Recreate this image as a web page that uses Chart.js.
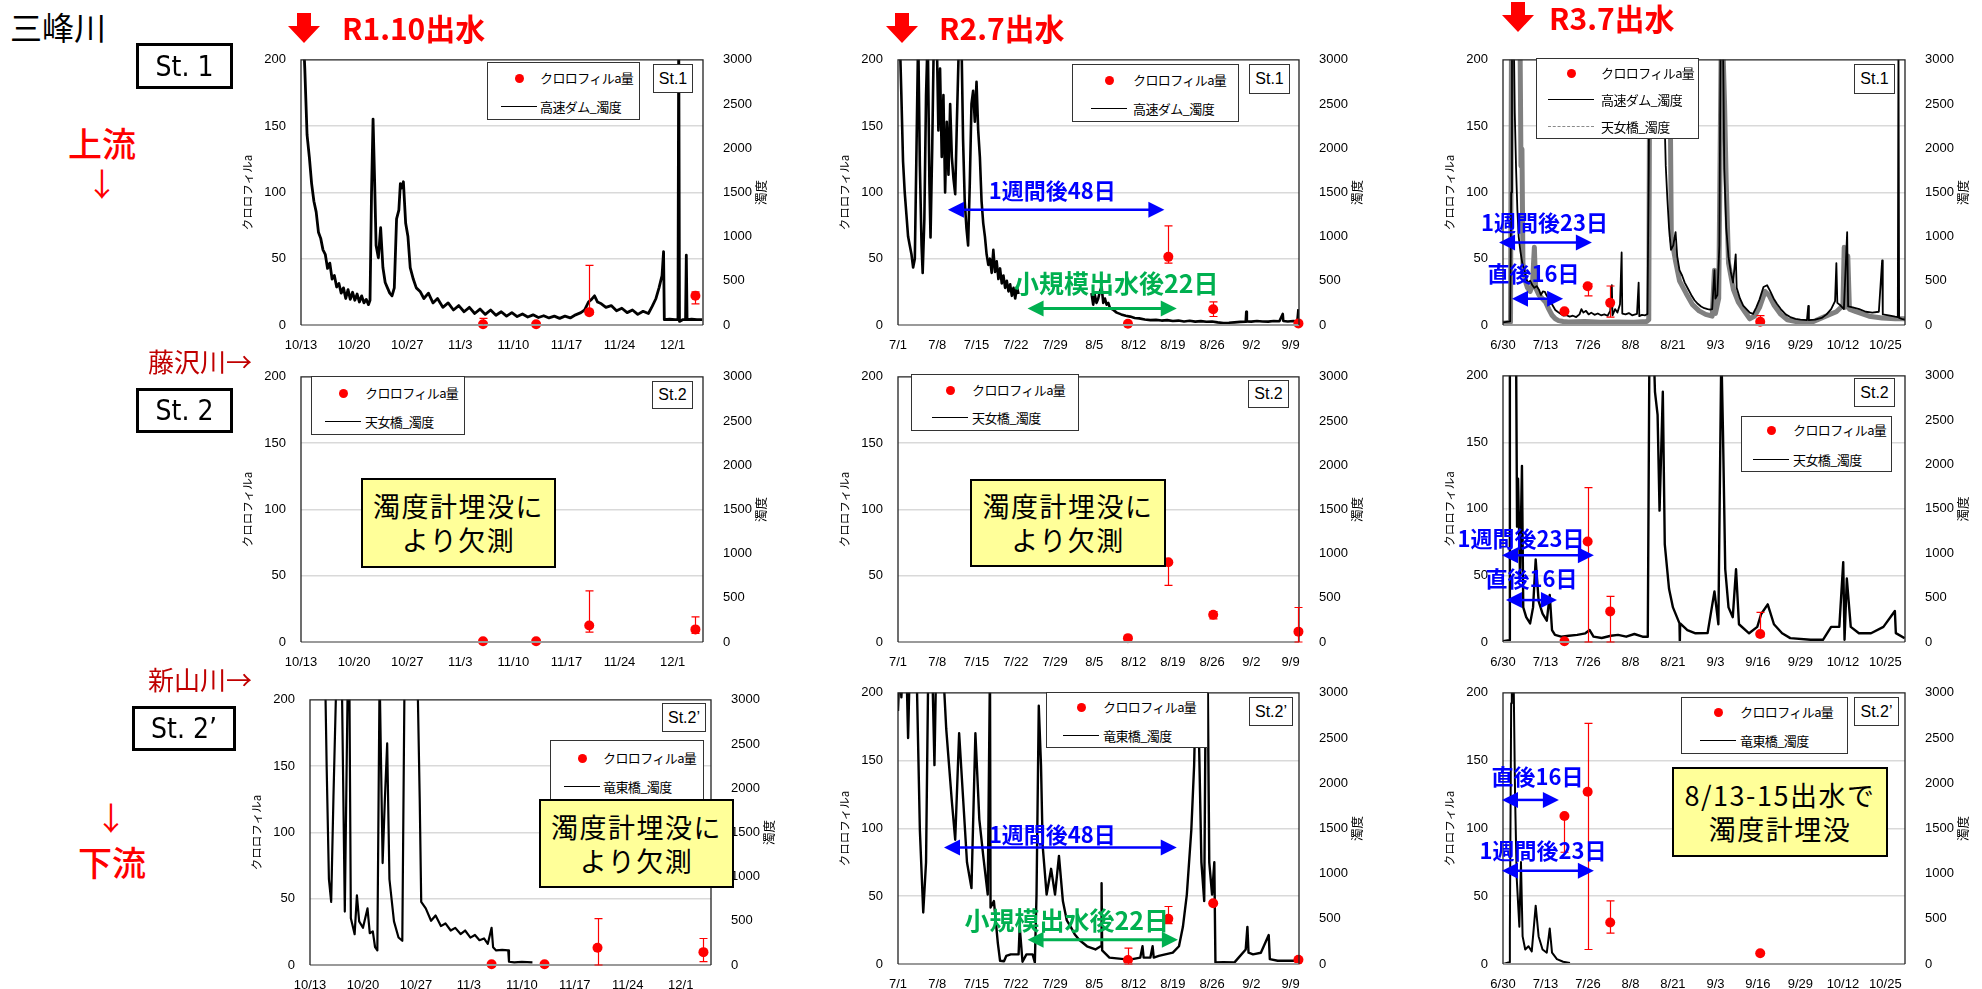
<!DOCTYPE html>
<html>
<head>
<meta charset="utf-8">
<script src="https://cdn.jsdelivr.net/npm/chart.js@4.4.1/dist/chart.umd.min.js"></script>
<style>
  body { margin: 0; background: #fff; width: 1982px; height: 989px; position: relative; overflow: hidden; }
  canvas { position: absolute; }
  .ov { position: absolute; white-space: nowrap; line-height: 1; font-family: 'Noto Sans CJK JP', sans-serif; color: #000; }
  .box { position: absolute; box-sizing: border-box; display: flex; align-items: center; justify-content: center; text-align: center; }
</style>
</head>
<body>
<script>
// ---- tick labels ----
const r1TickDays = [0, 7, 14, 21, 28, 35, 42, 49];
const r1TickLabels = ['10/13', '10/20', '10/27', '11/3', '11/10', '11/17', '11/24', '12/1'];
const r2TickDays = [0, 7, 14, 21, 28, 35, 42, 49, 56, 63, 70];
const r2TickLabels = ['7/1', '7/8', '7/15', '7/22', '7/29', '8/5', '8/12', '8/19', '8/26', '9/2', '9/9'];
const r3TickDays = [0, 13, 26, 39, 52, 65, 78, 91, 104, 117];
const r3TickLabels = ['6/30', '7/13', '7/26', '8/8', '8/21', '9/3', '9/16', '9/29', '10/12', '10/25'];
const chlTicks = [0, 50, 100, 150, 200];
const turbTicks = [0, 500, 1000, 1500, 2000, 2500, 3000];

// ---- chlorophyll-a samples (day from axis start) ----
const chlDayR1 = [24, 31, 38, 52];
const chlDayR2 = [41, 48.2, 56.2, 71.4];
const chlDayR3 = [18.8, 25.9, 32.8, 78.7];

const st1R1Chl = [0.5, 0.5, 9.7, 22];
const st1R1Lo = [0.5, 0.5, 8, 16];
const st1R1Hi = [5, 0.5, 45, 25];
const st2R1Chl = [0.5, 0.5, 12.5, 9.5];
const st2R1Lo = [0.5, 0.5, 7.5, 6.5];
const st2R1Hi = [0.5, 0.5, 38.6, 19];
const st2dR1Chl = [0.5, 0.5, 13, 9.7];
const st2dR1Lo = [0.5, 0.5, 0, 2.5];
const st2dR1Hi = [0.5, 0.5, 35, 20];

const st1R2Chl = [1, 51.4, 11.9, 1.2];
const st1R2Lo = [1, 46.6, 6.4, 1.2];
const st1R2Hi = [1, 74.8, 17.4, 1.2];
const st2R2Chl = [2.9, 60.2, 20.5, 7.8];
const st2R2Lo = [2.9, 42.7, 17.5, 0];
const st2R2Hi = [2.9, 60.2, 23, 26];
const st2dR2Chl = [2.9, 33.3, 44.8, 3.1];
const st2dR2Lo = [0, 29.8, 44.8, 3.1];
const st2dR2Hi = [11.7, 42.4, 44.8, 3.1];

const st1R3Chl = [10.3, 29.2, 16.7, 2.4];
const st1R3Lo = [10.3, 22, 6, 2.4];
const st1R3Hi = [10.3, 31, 29.4, 7];
const st2R3Chl = [0.5, 75.5, 23, 6];
const st2R3Lo = [0.5, 0, 0, 4];
const st2R3Hi = [0.5, 116, 34.3, 22.2];
const st2dR3Chl = [109.2, 127, 30.6, 7.9];
const st2dR3Lo = [82.4, 10.7, 22.7, 7.9];
const st2dR3Hi = [109.2, 177.5, 46.6, 7.9];

// ---- turbidity traces (day, value) ----
// St.1 高速ダム R1.10
const st1R1Day = [
  0.3, 0.5, 0.8, 1.1, 1.4, 1.7, 2.0, 2.3, 2.6, 2.9,
  3.2, 3.5, 3.8, 4.1, 4.4, 4.7, 5.0, 5.3, 5.6, 5.9,
  6.2, 6.5, 6.8, 7.1, 7.4, 7.7, 8.0, 8.3, 8.6, 8.9,
  9.1, 9.3, 9.5, 9.7, 9.9, 10.2, 10.5, 10.8, 11.1, 11.4,
  11.7, 12.0, 12.3, 12.6, 12.9, 13.1, 13.3, 13.5, 13.8, 14.1,
  14.4, 14.8, 15.2, 15.7, 16.2, 16.8, 17.4, 18.0, 18.7, 19.4,
  20.1, 20.8, 21.5, 22.2, 22.9, 23.6, 24.3, 25.0, 25.7, 26.4,
  27.1, 27.8, 28.5, 29.2, 29.9, 30.6, 31.3, 32.0, 32.7, 33.4,
  34.1, 34.8, 35.5, 36.2, 36.9, 37.4, 37.9, 38.3, 38.7, 39.1,
  39.6, 40.2, 40.9, 41.6, 42.3, 43.0, 43.7, 44.4, 45.1, 45.8,
  46.3, 46.8, 47.2, 47.6, 47.8, 47.9, 48.6, 49.3, 49.7, 49.8,
  49.9, 50.3, 50.7, 50.8, 50.9, 51.5, 52.2, 52.9
];
const st1R1Turb = [
  3300, 2900, 2150, 1900, 1600, 1400, 1280, 1050, 980, 850,
  800, 640, 700, 520, 560, 430, 470, 360, 420, 300,
  400, 290, 370, 280, 350, 260, 330, 250, 290, 230,
  280, 1500, 2330, 1650, 900, 760, 1100, 650, 480, 420,
  360, 330, 420, 1200, 1300, 1600, 1550, 1620, 1150, 1000,
  650, 520, 420, 380, 300, 360, 250, 300, 200, 250,
  170, 220, 150, 200, 130, 180, 120, 170, 110, 150,
  100, 140, 95, 125, 90, 115, 85, 105, 80, 100,
  75, 100, 80, 115, 140, 170, 260, 290, 330, 260,
  240, 200, 220, 160, 190, 140, 170, 120, 155, 130,
  210, 300, 420, 560, 830, 60, 65, 60, 60, 3400,
  40, 60, 60, 790, 60, 65, 60, 60
];

// St.1 高速ダム R2.7
const st1R2Day = [
  0.3, 0.6, 0.9, 1.2, 1.5, 1.8, 2.1, 2.4, 2.7, 3.0,
  3.3, 3.6, 3.9, 4.2, 4.4, 4.7, 5.0, 5.3, 5.6, 5.8,
  6.1, 6.4, 6.9, 7.2, 7.5, 7.8, 8.1, 8.4, 8.7, 9.0,
  9.3, 9.6, 9.9, 10.2, 10.5, 10.9, 11.3, 11.6, 11.9, 12.2,
  12.5, 12.8, 13.1, 13.4, 13.7, 14.0, 14.3, 14.6, 14.9, 15.2,
  15.5, 15.8, 16.1, 16.4, 16.7, 17.0, 17.3, 17.6, 17.9, 18.2,
  18.5, 18.8, 19.1, 19.4, 19.7, 20.0, 20.3, 20.6, 20.9, 21.2,
  21.5, 21.6, 34.5, 34.8, 35.1, 35.4, 35.7, 36.0, 36.3, 36.6,
  36.9, 37.2, 37.5, 37.8, 38.4, 39.0, 39.8, 40.6, 41.4, 42.2,
  43, 44, 45, 46, 47, 48, 49, 50, 51, 52,
  53, 54, 55, 56, 57, 58, 59, 60, 61, 62,
  62.1, 62.2, 63, 64, 65, 66, 67, 68, 68.6, 68.7,
  69.5, 70.5, 71.2, 71.4
];
const st1R2Turb = [
  3300, 2600, 1850, 1500, 1250, 1000, 900, 800, 650, 750,
  2000, 3300, 1800, 900, 590, 1200, 2600, 3300, 1600, 990,
  2000, 3300, 3300, 2200, 2900, 1900, 2600, 1500, 2300, 1700,
  2500, 1900, 1650, 1480, 2300, 3300, 3300, 2100, 1400, 1100,
  900, 1600, 2500, 2650, 2300, 2750, 2200, 1900, 1400, 1150,
  1000, 800, 680, 750, 590, 850, 600, 720, 520, 640,
  470, 560, 420, 500, 380, 460, 330, 420, 300, 430,
  350, null, 360, 230, 340, 250, 300, 380, 430, 250,
  300, 230, 250, 190, 170, 140, 120, 105, 95, 80,
  75, 62, 55, 58, 50, 55, 45, 50, 40, 48,
  38, 44, 36, 40, 30, 22, 25, 30, 35, 36,
  150, 40, 38, 45, 40, 38, 45, 42, 125, 45,
  40, 45, 40, 180
];

// St.1 高速ダム R3.7
const st1R3Day = [
  0, 2.2, 2.5, 2.75, 3.3, 3.6, 4.0, 4.4, 4.8, 5.3,
  5.9, 6.5, 7.1, 7.7, 8.3, 9.0, 9.6, 10.3, 11.0, 11.6,
  12.2, 12.8, 13.4, 14.0, 14.6, 15.3, 16.0, 16.7, 17.5, 18.4,
  19.4, 20.4, 21.4, 22.4, 23.4, 24.0, 24.6, 25.4, 26.2, 27.0,
  28.0, 29.0, 30.0, 31.0, 32.0, 32.8, 33.3, 33.5, 34.3, 35.0,
  35.8, 36.3, 36.5, 37.5, 38.5, 39.5, 41.0, 41.5, 41.7, 42.5,
  43.5, 44.2, 44.6, 44.8, 49.0, 49.4, 49.8, 50.3, 50.8, 51.4,
  52.1, 52.8, 53.3, 54.0, 54.8, 55.6, 56.6, 57.6, 58.6, 59.6,
  60.6, 61.6, 62.6, 63.4, 64.0, 64.7, 65.0, 65.6, 66.2, 66.6,
  67.3, 67.7, 68.3, 69.0, 69.7, 70.4, 71.2, 71.5, 72.5, 73.5,
  74.5, 75.5, 76.5, 77.5, 78.5, 79.7, 80.8, 81.8, 82.8, 83.8,
  85.0, 86.5, 87.9, 89.5, 91.0, 93.0, 93.4, 93.6, 95.5, 97.5,
  99.0, 100.4, 101.6, 102.0, 102.3, 103.3, 104.3, 105.3, 105.6, 107.0,
  109.0, 111.0, 113.0, 115.0, 116.0, 116.2, 118.0, 120.0, 120.8, 121.0,
  121.2, 122.0, 123.0
];
const st1R3Turb = [
  30, 40, 1500, 3300, 3300, 2400, 1770, 1300, 1000, 840,
  700, 630, 520, 480, 500, 450, 420, 440, 400, 340,
  380, 376, 330, 300, 260, 215, 170, 150, 130, 107,
  110, 95, 105, 90, 120, 180, 140, 160, 120, 140,
  115, 130, 110, 120, 105, 160, 450, 110, 180, 140,
  235, 820, 130, 120, 135, 110, 125, 480, 100, 115,
  110, 125, 1800, 3300, 3300, 2400, 1800, 1420, 1100, 850,
  900, 1050, 780, 620, 560, 480, 410, 340, 280, 240,
  210, 190, 180, 175, 180, 620, 300, 340, 900, 3300,
  3300, 1770, 1100, 770, 600, 480, 800, 420, 300, 220,
  180, 140, 125, 200, 290, 430, 450, 380, 300, 240,
  180, 120, 90, 70, 60, 55, 215, 55, 60, 80,
  120, 180, 270, 700, 250, 220, 180, 1050, 210, 200,
  180, 150, 140, 150, 730, 120, 110, 95, 90, 3300,
  80, 70, 60
];

// St.1 天女橋 R3.7 (grey)
const tenR3Day = [
  0, 2.3, 2.6, 5.2, 5.5, 5.8, 6.1, 6.8, 7.5, 8.3,
  9.0, 9.6, 10.0, 11.0, 12.0, 13.0, 14.0, 15.0, 16.0, 17.0,
  18.4, 20.0, 25.0, 30.0, 35.0, 40.0, 44.0, 44.6, 44.9, 51.0,
  51.5, 52.8, 54.0, 56.0, 58.0, 60.0, 62.0, 64.0, 64.7, 65.0,
  66.0, 66.8, 67.4, 67.8, 68.3, 69.0, 70.5, 72.0, 74.0, 75.5,
  77.0, 78.5, 80.2, 81.5, 83.0, 85.0, 87.0, 90.0, 95.0, 100.0,
  102.0, 104.0, 104.4, 104.7, 105.5, 106.0, 108.0, 112.0, 116.0, 120.0,
  123.0
];
const tenR3Turb = [
  20, 30, 3300, 3300, 1800, 1990, 700, 500, 420, 380,
  450, 880, 420, 340, 300, 260, 180, 110, 70, 50,
  40, 35, 40, 30, 35, 30, 40, 60, 3300, 3300,
  1000, 720, 500, 360, 230, 160, 120, 100, 620, 130,
  300, 3300, 3000, 2490, 1600, 700, 400, 260, 150, 70,
  100, 200, 380, 330, 220, 120, 60, 35, 40, 120,
  150, 220, 880, 200, 780, 180, 150, 100, 80, 70,
  70
];

// St.2 天女橋 R3.7
const st2R3Day = [
  0, 1.9, 2.1, 4.0, 4.3, 4.6, 5.2, 5.8, 6.2, 7.1,
  8.3, 9.2, 10.0, 10.9, 12.1, 13.4, 14.3, 15.0, 15.9, 17.8,
  20.2, 22.7, 25.2, 26.5, 27.7, 30.2, 33.0, 35.2, 37.7, 40.2,
  42.7, 44.3, 44.8, 46.1, 46.5, 47.3, 47.9, 48.9, 49.5, 50.8,
  52.0, 54.0, 54.1, 54.2, 56.4, 58.9, 62.6, 64.7, 65.9, 66.8,
  67.3, 68.0, 69.0, 70.3, 71.3, 72.2, 75.3, 77.8, 79.0, 81.0,
  82.9, 85.4, 87.9, 94.1, 97.9, 100.4, 102.9, 104.1, 104.5, 105.2,
  106.4, 108.9, 112.6, 116.4, 119.9, 120.2, 122.9
];
const st2R3Turb = [
  10, 20, 3300, 3300, 1300, 1840, 750, 1985, 390, 280,
  210, 390, 930, 460, 320, 240, 530, 135, 80, 60,
  70, 80, 98, 135, 60, 45, 70, 80, 60, 90,
  60, 60, 3300, 3300, 2820, 2560, 1480, 2820, 1100, 600,
  390, 210, 0, 210, 135, 98, 100, 570, 200, 3300,
  2380, 820, 390, 280, 820, 200, 98, 170, 316, 424,
  200, 98, 44, 25, 25, 170, 170, 900, 25, 715,
  170, 98, 98, 170, 350, 100, 44
];

// St.2' 竜東橋 R1.10
const st2dR1Day = [
  2.0, 2.2, 2.5, 2.8, 3.1, 3.5, 4.2, 4.6, 5.0, 5.2,
  5.4, 5.9, 6.2, 6.5, 7.0, 7.6, 7.9, 8.3, 8.6, 8.9,
  9.2, 9.6, 9.9, 10.2, 10.5, 11.1, 11.7, 12.2, 12.5, 14.2,
  14.5, 14.7, 15.3, 16.0, 16.6, 17.3, 17.9, 18.6, 19.2, 19.9,
  20.5, 21.2, 21.8, 22.4, 23.0, 23.5, 24.0, 24.2, 24.6, 25.4,
  26.2, 26.3, 27.0, 28.0, 29.4
];
const st2dR1Turb = [
  3300, 2250, 970, 713, 1900, 3300, 3300, 604, 3300, 3300,
  530, 348, 787, 494, 421, 640, 360, 380, 201, 165,
  3300, 1153, 1884, 2506, 970, 494, 311, 274, 3300, 3300,
  1884, 713, 640, 500, 560, 440, 470, 390, 420, 350,
  390, 310, 340, 280, 300, 240, 421, 201, 165, 170,
  165, 37, 30, 35, 30
];

// St.2' 竜東橋 R2.7
const st2dR2Day = [
  0, 0.3, 0.6, 0.9, 1.5, 1.8, 2.1, 3.3, 3.9, 4.5,
  5.0, 5.4, 6.1, 6.5, 6.8, 7.6, 8.1, 8.6, 9.1, 9.6,
  10.2, 10.9, 11.6, 12.3, 13.1, 13.8, 14.5, 15.2, 16.0, 16.4,
  16.5, 17.1, 17.8, 18.2, 18.9, 19.3, 20.1, 21.5, 21.7, 22.2,
  22.9, 24.0, 24.4, 24.7, 25.1, 25.5, 25.8, 26.5, 27.3, 28.0,
  28.7, 29.4, 30.1, 30.8, 31.5, 32.3, 33.7, 35.2, 36.2, 36.3,
  36.4, 37.7, 40.3, 41.8, 43.2, 43.6, 43.8, 45.0, 45.4, 45.6,
  46.5, 49.0, 50.1, 50.8, 51.5, 52.3, 52.8, 53.2, 53.7, 54.1,
  54.6, 54.9, 55.2, 55.5, 56.0, 56.4, 56.6, 58.0, 60.0, 62.0,
  62.3, 62.5, 63.3, 64.7, 66.1, 66.3, 67.7, 71.4
];
const st2dR2Turb = [
  2800, 3300, 2950, 3300, 3300, 2500, 3300, 3300, 1480, 570,
  1125, 3300, 3300, 2200, 3300, 3300, 3200, 2600, 2200, 1800,
  1375, 2553, 1839, 1125, 839, 2553, 1600, 1196, 768, 3300,
  625, 696, 232, 36, 30, 89, 107, 107, 411, 25,
  107, 107, 18, 768, 2857, 2196, 1304, 768, 1053, 768,
  1196, 696, 482, 411, 330, 268, 196, 161, 200, 893,
  150, 71, 54, 54, 71, 196, 71, 71, 196, 71,
  89, 125, 196, 411, 768, 1482, 2196, 3300, 2375, 1125,
  696, 3300, 3300, 1125, 768, 1125, 18, 20, 18, 161,
  411, 125, 107, 125, 321, 54, 36, 36
];

// St.2' 竜東橋 R3.7
const st2dR3Day = [
  0, 1.9, 2.1, 2.5, 2.7, 3.2, 3.7, 4.2, 5.0, 5.5,
  6.0, 6.8, 7.8, 8.8, 10.0, 10.9, 12.1, 13.4, 14.3, 15.0,
  16.5, 18.4, 20.5
];
const st2dR3Turb = [
  0, 20, 340, 2885, 3300, 3300, 1846, 950, 412, 1129,
  305, 161, 197, 140, 645, 305, 161, 125, 394, 125,
  54, 25, 11
];

// ---------------------------------------------------------------
Chart.defaults.font.family = "'Liberation Sans', Arial, sans-serif";
Chart.defaults.font.size = 13;
Chart.defaults.color = '#000';

const blue = '#0000ff';
const green = '#00b050';

const framePlugin = {
  id: 'frame',
  afterDatasetsDraw(chart) {
    const { ctx, chartArea: a } = chart;
    ctx.save();
    ctx.strokeStyle = '#9a9a9a';
    ctx.lineWidth = 2;
    ctx.beginPath(); ctx.moveTo(a.left, a.bottom); ctx.lineTo(a.right, a.bottom); ctx.stroke();
    ctx.strokeStyle = '#222';
    ctx.lineWidth = 1.3;
    ctx.beginPath();
    ctx.moveTo(a.left, a.bottom); ctx.lineTo(a.left, a.top);
    ctx.lineTo(a.right, a.top); ctx.lineTo(a.right, a.bottom);
    ctx.stroke();
    ctx.restore();
  }
};

const errorBarPlugin = {
  id: 'errorBars',
  afterDatasetsDraw(chart) {
    const { ctx } = chart;
    const xs = chart.scales.x, ys = chart.scales.y;
    chart.data.datasets.forEach(ds => {
      if (!ds.errLo) return;
      ctx.save();
      ctx.strokeStyle = '#ff0000';
      ctx.lineWidth = 1.2;
      ds.data.forEach((p, i) => {
        const lo = ds.errLo[i], hi = ds.errHi[i];
        if (hi - lo < 0.5) return;
        const x = Math.round(xs.getPixelForValue(p.x)) + 0.5;
        const yl = ys.getPixelForValue(lo), yh = ys.getPixelForValue(hi);
        ctx.beginPath();
        ctx.moveTo(x, yl); ctx.lineTo(x, yh);
        if (hi > p.y + 0.5) { ctx.moveTo(x - 4, yh); ctx.lineTo(x + 4, yh); }
        if (lo < p.y - 0.5) { ctx.moveTo(x - 4, yl); ctx.lineTo(x + 4, yl); }
        ctx.stroke();
      });
      ctx.restore();
    });
  }
};

const axisTitlePlugin = {
  id: 'axisTitles',
  afterDraw(chart) {
    const { ctx, chartArea: a } = chart;
    const cy = (a.top + a.bottom) / 2;
    ctx.save();
    ctx.fillStyle = '#000';
    ctx.textAlign = 'center';
    ctx.textBaseline = 'middle';
    [[a.left - 53, 'クロロフィルa', 11.5], [a.right + 58, '濁度', 12.5]].forEach(([x, t, s]) => {
      ctx.save();
      ctx.font = s + "px 'Noto Sans CJK JP'";
      ctx.translate(x, cy);
      ctx.rotate(-Math.PI / 2);
      ctx.fillText(t, 0, 0);
      ctx.restore();
    });
    ctx.restore();
  }
};

function notesPlugin(items) {
  return {
    id: 'notes',
    afterDatasetsDraw(chart) {
      const { ctx } = chart;
      const xs = chart.scales.x, ys = chart.scales.y;
      items.forEach(n => {
        const x0 = xs.getPixelForValue(n.d0), x1 = xs.getPixelForValue(n.d1);
        const y = ys.getPixelForValue(n.v);
        const hl = 16, hh = 8;
        ctx.save();
        ctx.strokeStyle = n.color;
        ctx.fillStyle = n.color;
        ctx.lineWidth = n.lw;
        ctx.beginPath(); ctx.moveTo(x0 + hl - 1, y); ctx.lineTo(x1 - hl + 1, y); ctx.stroke();
        ctx.beginPath(); ctx.moveTo(x0, y); ctx.lineTo(x0 + hl, y - hh); ctx.lineTo(x0 + hl, y + hh); ctx.closePath(); ctx.fill();
        ctx.beginPath(); ctx.moveTo(x1, y); ctx.lineTo(x1 - hl, y - hh); ctx.lineTo(x1 - hl, y + hh); ctx.closePath(); ctx.fill();
        ctx.font = 'bold ' + n.size + "px 'Noto Sans CJK JP'";
        ctx.textAlign = 'center';
        ctx.textBaseline = 'middle';
        ctx.fillText(n.text, (x0 + x1) / 2 + n.dx, y - n.dy);
        ctx.restore();
      });
    }
  };
}

function makePanel(p) {
  const [l, t, r, b] = p.rect;
  const cv = document.createElement('canvas');
  cv.width = r - l + 200;
  cv.height = b - t + 45;
  cv.style.left = (l - 100) + 'px';
  cv.style.top = (t - 15) + 'px';
  document.body.appendChild(cv);

  const datasets = [{
    type: 'scatter',
    data: p.chlDays.map((d, i) => ({ x: d, y: p.chl[i] })),
    errLo: p.lo, errHi: p.hi,
    yAxisID: 'y',
    backgroundColor: '#ff0000',
    borderWidth: 0,
    pointRadius: 5,
    clip: false
  }];
  p.lines.forEach(s => datasets.push({
    type: 'line',
    data: s.days.map((d, i) => ({ x: d, y: s.vals[i] })),
    yAxisID: 'y1',
    borderColor: s.color,
    borderWidth: s.width,
    borderJoinStyle: 'round',
    pointRadius: 0,
    tension: 0,
    spanGaps: false,
    clip: 0
  }));

  new Chart(cv, {
    type: 'scatter',
    data: { datasets },
    options: {
      responsive: false,
      animation: false,
      devicePixelRatio: 1,
      layout: { padding: { left: 40, right: 40, top: 15, bottom: 0 } },
      plugins: { legend: { display: false }, tooltip: { enabled: false } },
      scales: {
        x: {
          type: 'linear', min: 0, max: p.xMax,
          grid: { display: false }, border: { display: false },
          afterBuildTicks: ax => { ax.ticks = p.tickDays.map(v => ({ value: v })); },
          ticks: { autoSkip: false, maxRotation: 0, padding: 5, callback: (v, i) => p.tickLabels[i] },
          afterFit: ax => { ax.height = 30; }
        },
        y: {
          position: 'left', min: 0, max: 200,
          afterBuildTicks: ax => { ax.ticks = chlTicks.map(v => ({ value: v })); },
          grid: {
            drawTicks: false, lineWidth: 1.5,
            color: c => (c.tick && (c.tick.value === 0 || c.tick.value === 200)) ? 'rgba(0,0,0,0)' : '#d9d9d9'
          },
          border: { display: false },
          ticks: { padding: 15, callback: v => String(v) },
          afterFit: ax => { ax.width = 60; }
        },
        y1: {
          position: 'right', min: 0, max: 3000,
          afterBuildTicks: ax => { ax.ticks = turbTicks.map(v => ({ value: v })); },
          grid: { display: false }, border: { display: false },
          ticks: { padding: 12, callback: v => String(v) },
          afterFit: ax => { ax.width = 60; }
        }
      }
    },
    plugins: [framePlugin, errorBarPlugin, notesPlugin(p.notes || []), axisTitlePlugin]
  });
}

const r1Axis = { xMax: 53, tickDays: r1TickDays, tickLabels: r1TickLabels, chlDays: chlDayR1 };
const r2Axis = { xMax: 71.5, tickDays: r2TickDays, tickLabels: r2TickLabels, chlDays: chlDayR2 };
const r3Axis = { xMax: 123, tickDays: r3TickDays, tickLabels: r3TickLabels, chlDays: chlDayR3 };

// row 1: St.1
makePanel({ ...r1Axis, rect: [301, 52, 703, 325], chl: st1R1Chl, lo: st1R1Lo, hi: st1R1Hi,
  lines: [{ days: st1R1Day, vals: st1R1Turb, color: '#000', width: 2.8 }] });
makePanel({ ...r2Axis, rect: [898, 52, 1299, 325], chl: st1R2Chl, lo: st1R2Lo, hi: st1R2Hi,
  lines: [{ days: st1R2Day, vals: st1R2Turb, color: '#000', width: 2.6 }],
  notes: [
    { d0: 8.9, d1: 47.5, v: 87, color: blue, lw: 2.5, text: '1週間後48日', dx: -4, dy: 19, size: 22 },
    { d0: 23.1, d1: 49.7, v: 12.5, color: green, lw: 3, text: '小規模出水後22日', dx: 14, dy: 25, size: 25 }
  ] });
makePanel({ ...r3Axis, rect: [1503, 52, 1905, 325], chl: st1R3Chl, lo: st1R3Lo, hi: st1R3Hi,
  lines: [
    { days: st1R3Day, vals: st1R3Turb, color: '#000', width: 1.8 },
    { days: tenR3Day, vals: tenR3Turb, color: '#808080', width: 5 }
  ],
  notes: [
    { d0: -1.2, d1: 27.2, v: 62.3, color: blue, lw: 2.5, text: '1週間後23日', dx: -1, dy: 20, size: 22 },
    { d0: 2.75, d1: 18.4, v: 19.8, color: blue, lw: 2.5, text: '直後16日', dx: -4, dy: 25, size: 22 }
  ] });

// row 2: St.2
makePanel({ ...r1Axis, rect: [301, 369, 703, 642], chl: st2R1Chl, lo: st2R1Lo, hi: st2R1Hi, lines: [] });
makePanel({ ...r2Axis, rect: [898, 369, 1299, 642], chl: st2R2Chl, lo: st2R2Lo, hi: st2R2Hi, lines: [] });
makePanel({ ...r3Axis, rect: [1503, 368, 1905, 642], chl: st2R3Chl, lo: st2R3Lo, hi: st2R3Hi,
  lines: [{ days: st2R3Day, vals: st2R3Turb, color: '#000', width: 2.4 }],
  notes: [
    { d0: -0.3, d1: 27.8, v: 65.2, color: blue, lw: 2.5, text: '1週間後23日', dx: -27, dy: 17, size: 22 },
    { d0: 0.9, d1: 16.5, v: 31.5, color: blue, lw: 2.5, text: '直後16日', dx: 0, dy: 21, size: 22 }
  ] });

// row 3: St.2'
makePanel({ ...r1Axis, rect: [310, 692, 711, 965], chl: st2dR1Chl, lo: st2dR1Lo, hi: st2dR1Hi,
  lines: [{ days: st2dR1Day, vals: st2dR1Turb, color: '#000', width: 2.2 }] });
makePanel({ ...r2Axis, rect: [898, 685, 1299, 964], chl: st2dR2Chl, lo: st2dR2Lo, hi: st2dR2Hi,
  lines: [{ days: st2dR2Day, vals: st2dR2Turb, color: '#000', width: 2.4 }],
  notes: [
    { d0: 8.2, d1: 49.7, v: 86, color: blue, lw: 2.5, text: '1週間後48日', dx: -8, dy: 13, size: 22 },
    { d0: 23.1, d1: 49.9, v: 17.9, color: green, lw: 3, text: '小規模出水後22日', dx: -36, dy: 19, size: 25 }
  ] });
makePanel({ ...r3Axis, rect: [1503, 685, 1905, 964], chl: st2dR3Chl, lo: st2dR3Lo, hi: st2dR3Hi,
  lines: [{ days: st2dR3Day, vals: st2dR3Turb, color: '#000', width: 2 }],
  notes: [
    { d0: -0.3, d1: 17.1, v: 121, color: blue, lw: 2.5, text: '直後16日', dx: 7, dy: 23, size: 22 },
    { d0: -0.3, d1: 27.8, v: 68.8, color: blue, lw: 2.5, text: '1週間後23日', dx: -5, dy: 20, size: 22 }
  ] });

// ---- overlays ----
function put(html, css, parent) {
  const d = document.createElement('div');
  d.className = 'ov';
  d.innerHTML = html;
  Object.assign(d.style, css);
  (parent || document.body).appendChild(d);
  return d;
}
function box(x, y, w, h, html, css) {
  const d = document.createElement('div');
  d.className = 'box';
  d.innerHTML = html;
  Object.assign(d.style, { left: x + 'px', top: y + 'px', width: w + 'px', height: h + 'px' }, css || {});
  document.body.appendChild(d);
  return d;
}
function redArrow(x, y) {
  put('<svg width="32" height="30"><polygon points="9,0 23,0 23,13 32,13 16,30 0,13 9,13" fill="#ff0000"/></svg>',
    { left: x + 'px', top: y + 'px' });
}
function legend(x, y, w, h, tOff, mOff, half, items, rows) {
  const b = box(x, y, w, h, '', { border: '1px solid #333', background: '#fff' });
  items.forEach(([kind, label], i) => {
    const cy = rows[i];
    if (kind === 'dot') {
      put('', { left: (mOff - 4.5) + 'px', top: (cy - 4.5) + 'px', width: '9px', height: '9px', borderRadius: '50%', background: '#ff0000' }, b);
    } else {
      put('', { left: (mOff - half) + 'px', top: (cy - 1) + 'px', width: (2 * half) + 'px', height: '0px',
        borderTop: kind === 'dash' ? '1.5px dashed #8a8a8a' : '1.5px solid #000' }, b);
    }
    put(label, { left: tOff + 'px', top: (cy - 7) + 'px', fontSize: '13px', letterSpacing: '-0.6px' }, b);
  });
}
function stBox(x, y, w, h, label) {
  box(x, y, w, h, label, { border: '1.5px solid #333', background: '#fff', fontFamily: "'Liberation Sans', Arial", fontSize: '16px' });
}
function note(x, y, w, h, html) {
  box(x, y, w, h, html, { border: '2.5px solid #000', background: '#ffff99', fontFamily: "'Noto Sans CJK JP'",
    fontSize: '27px', lineHeight: '34px', letterSpacing: '1.5px' });
}

const CHL = 'クロロフィルa量';

// titles and side labels
put('三峰川', { left: '10px', top: '10px', fontSize: '32px' });
box(136, 43, 97, 46, 'St. 1', { border: '3px solid #000', fontFamily: "'Liberation Sans Narrow', 'DejaVu Sans Condensed'", fontSize: '28px' });
box(136, 388, 97, 45, 'St. 2', { border: '3px solid #000', fontFamily: "'Liberation Sans Narrow', 'DejaVu Sans Condensed'", fontSize: '28px' });
box(132, 706, 104, 45, 'St. 2’', { border: '3px solid #000', fontFamily: "'Liberation Sans Narrow', 'DejaVu Sans Condensed'", fontSize: '28px' });
put('上流', { left: '68px', top: '126px', fontSize: '34px', color: '#ff0000', fontWeight: '500' });
put('↓', { left: '86px', top: '166px', fontSize: '32px', color: '#ff0000' });
put('↓', { left: '95px', top: '800px', fontSize: '32px', color: '#ff0000' });
put('下流', { left: '78px', top: '845px', fontSize: '34px', color: '#ff0000', fontWeight: '500' });
put('藤沢川→', { left: '148px', top: '348px', fontSize: '26px', color: '#c00000' });
put('新山川→', { left: '148px', top: '666px', fontSize: '26px', color: '#c00000' });

redArrow(288, 13);
put('R1.10出水', { left: '342px', top: '12px', fontSize: '30px', color: '#ff0000', fontWeight: '700' });
redArrow(886, 13);
put('R2.7出水', { left: '939px', top: '12px', fontSize: '30px', color: '#ff0000', fontWeight: '700' });
redArrow(1502, 2);
put('R3.7出水', { left: '1549px', top: '2px', fontSize: '30px', color: '#ff0000', fontWeight: '700' });

// legends
legend(487, 62, 153, 58, 52, 31, 18, [['dot', CHL], ['line', '高速ダム_濁度']], [15, 44]);
legend(1072, 64, 167, 58, 60, 36, 18, [['dot', CHL], ['line', '高速ダム_濁度']], [15, 44]);
legend(1536, 58, 163, 81, 64, 34, 23, [['dot', CHL], ['line', '高速ダム_濁度'], ['dash', '天女橋_濁度']], [14, 41, 68]);
legend(311, 376, 154, 59, 53, 31, 18, [['dot', CHL], ['line', '天女橋_濁度']], [16, 45]);
legend(911, 374, 168, 57, 60, 38, 18, [['dot', CHL], ['line', '天女橋_濁度']], [15, 43]);
legend(1741, 416, 151, 56, 51, 29, 18, [['dot', CHL], ['line', '天女橋_濁度']], [13, 43]);
legend(550, 740, 154, 62, 52, 31, 18, [['dot', CHL], ['line', '竜東橋_濁度']], [17, 46]);
legend(1046, 692, 162, 56, 56, 34, 18, [['dot', CHL], ['line', '竜東橋_濁度']], [14, 43]);
legend(1681, 697, 167, 57, 58, 36, 18, [['dot', CHL], ['line', '竜東橋_濁度']], [14, 43]);

// station tags inside plots
stBox(653, 64, 40, 29, 'St.1');
stBox(1249, 64, 41, 30, 'St.1');
stBox(1854, 64, 41, 30, 'St.1');
stBox(652, 381, 41, 28, 'St.2');
stBox(1248, 380, 41, 28, 'St.2');
stBox(1854, 378, 41, 29, 'St.2');
stBox(662, 703, 44, 29, 'St.2’');
stBox(1249, 697, 44, 29, 'St.2’');
stBox(1854, 697, 45, 29, 'St.2’');

// notes
note(361, 478, 195, 90, '濁度計埋没に<br>より欠測');
note(970, 479, 196, 88, '濁度計埋没に<br>より欠測');
note(539, 799, 195, 89, '濁度計埋没に<br>より欠測');
note(1672, 767, 216, 90, '8/13-15出水で<br>濁度計埋没');
</script>
</body>
</html>
